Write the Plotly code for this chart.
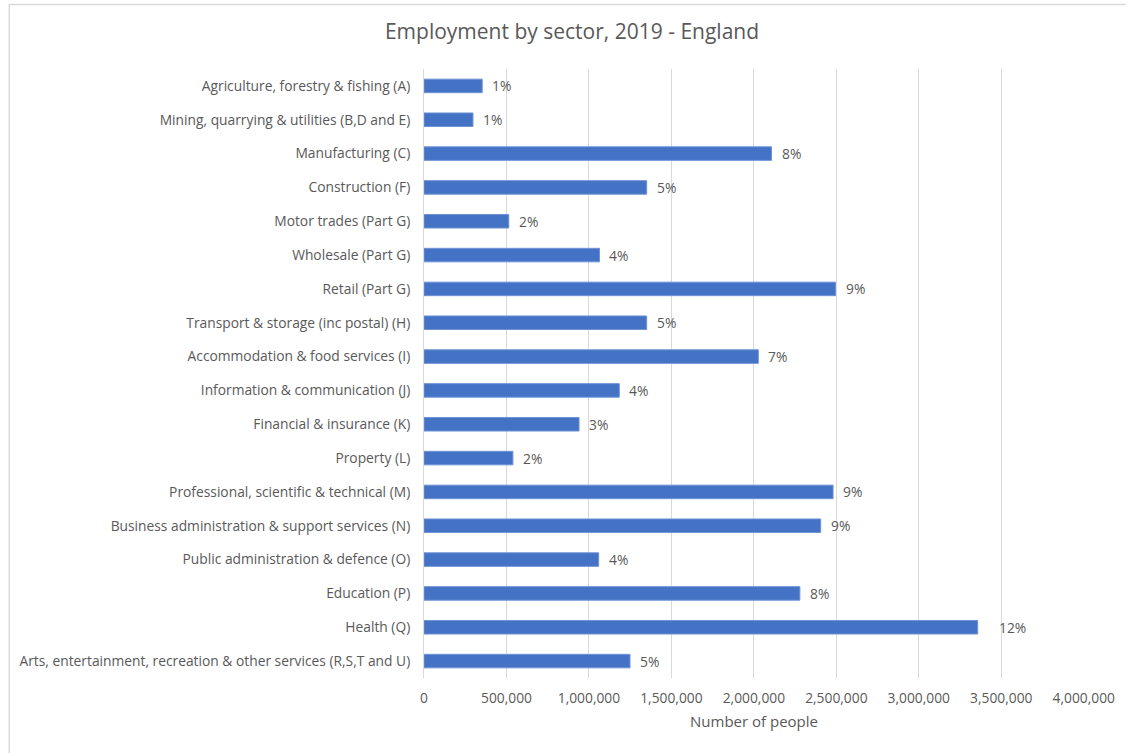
import plotly.graph_objects as go

# Employment by sector, England 2019
sectors = [
    "Agriculture, forestry & fishing (A)",
    "Mining, quarrying & utilities (B,D and E)",
    "Manufacturing (C)",
    "Construction (F)",
    "Motor trades (Part G)",
    "Wholesale (Part G)",
    "Retail (Part G)",
    "Transport & storage (inc postal) (H)",
    "Accommodation & food services (I)",
    "Information & communication (J)",
    "Financial & insurance (K)",
    "Property (L)",
    "Professional, scientific & technical (M)",
    "Business administration & support services (N)",
    "Public administration & defence (O)",
    "Education (P)",
    "Health (Q)",
    "Arts, entertainment, recreation & other services (R,S,T and U)",
]
employees = [
    353000, 297000, 2107000, 1350000, 514000, 1064000, 2495000, 1350000,
    2027000, 1184000, 940000, 539000, 2480000, 2405000, 1059000, 2279000,
    3357000, 1249000,
]
shares = [
    "1%", "1%", "8%", "5%", "2%", "4%", "9%", "5%", "7%", "4%", "3%", "2%",
    "9%", "9%", "4%", "8%", "12%", "5%",
]
x_ticks = [0, 500000, 1000000, 1500000, 2000000, 2500000, 3000000, 3500000, 4000000]

W, H = 1127, 753
L, R, T, B = 424, 37, 69, 75
FONT = "Open Sans"
GREY = "#595959"
FS = 13.8

fig = go.Figure(
    go.Bar(
        x=employees,
        y=sectors,
        orientation="h",
        marker=dict(color="#4472C4", line=dict(color="#6f93d6", width=1)),
        hoverinfo="x+y",
    )
)

# percentage share labels just beyond each bar end
for name, val, lab in zip(sectors, employees, shares):
    shift = 19 if lab == "12%" else 8
    fig.add_annotation(
        x=val, y=name, text=lab, showarrow=False,
        xanchor="left", yanchor="middle", xshift=shift,
        font=dict(family=FONT, size=FS, color=GREY),
    )

# chart-area frame along the top and left
pw, ph = W - L - R, H - T - B
def px(xp):
    return (xp - L) / pw
def py(yp):
    return (H - B - yp) / ph
fig.add_shape(type="line", xref="paper", yref="paper",
              x0=px(5.5), x1=px(W + 5), y0=py(4.5), y1=py(4.5),
              line=dict(color="#d9d9d9", width=1.5))
fig.add_shape(type="line", xref="paper", yref="paper",
              x0=px(5.5), x1=px(5.5), y0=py(4.5), y1=py(H + 5),
              line=dict(color="#d9d9d9", width=1.5))

fig.update_layout(
    width=W, height=H,
    margin=dict(l=L, r=R, t=T, b=B),
    paper_bgcolor="white", plot_bgcolor="white",
    bargap=0.6,
    showlegend=False,
    font=dict(family=FONT, size=FS, color=GREY),
    title=dict(
        text="Employment by sector, 2019 - England",
        x=572 / W, xanchor="center", y=1 - 32 / H, yanchor="middle",
        font=dict(family=FONT, size=21, color=GREY),
    ),
    xaxis=dict(
        range=[0, 4001500],
        tickvals=x_ticks,
        ticktext=[f"{v:,}" for v in x_ticks],
        showgrid=True, gridcolor="#d9d9d9", gridwidth=1,
        zeroline=False, showline=False,
        ticks="", ticklen=0, ticklabelstandoff=10,
        tickfont=dict(family=FONT, size=FS, color=GREY),
        title=dict(text="Number of people", standoff=10,
                   font=dict(family=FONT, size=15, color=GREY)),
        fixedrange=True,
    ),
    yaxis=dict(
        categoryorder="array", categoryarray=sectors,
        autorange="reversed",
        showgrid=False, zeroline=False,
        showline=True, linecolor="#d9d9d9", linewidth=1,
        ticks="", ticklabelstandoff=10,
        tickfont=dict(family=FONT, size=FS, color=GREY),
        fixedrange=True,
    ),
)

fig.write_html("out.html")
